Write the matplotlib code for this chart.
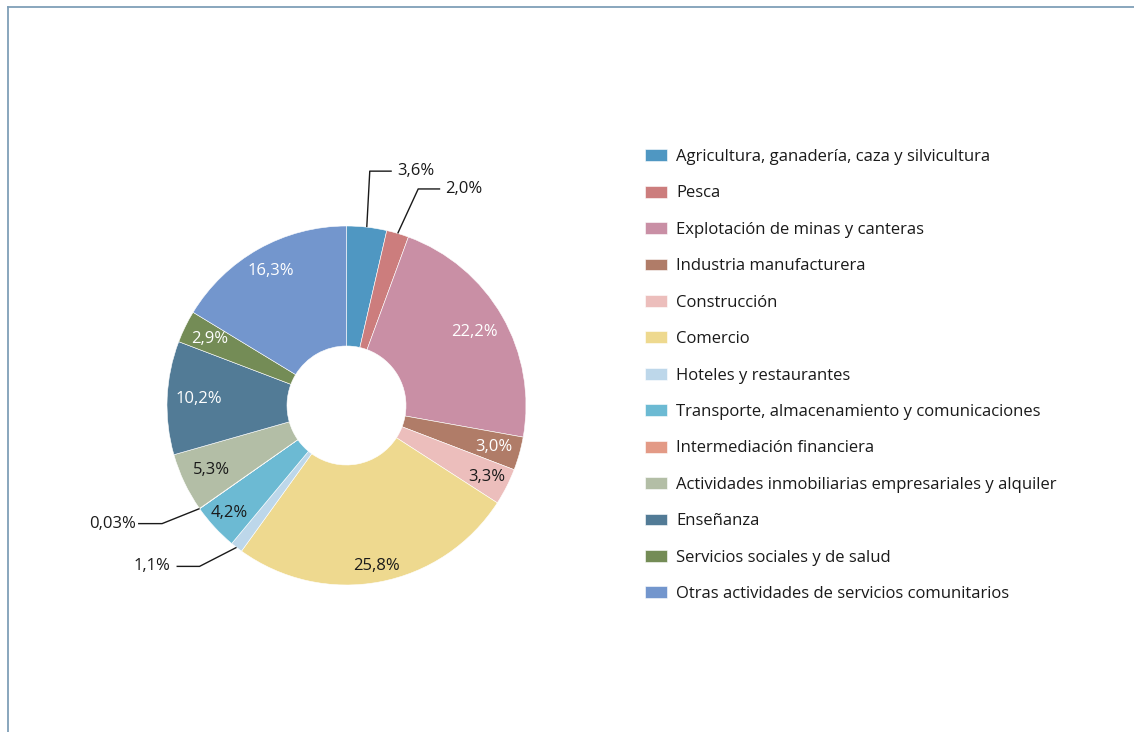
import numpy as np
import matplotlib
matplotlib.use("Agg")
import matplotlib.pyplot as plt
from matplotlib.lines import Line2D

plt.rcParams['font.family'] = ['Open Sans', 'DejaVu Sans']

categories = [
    "Agricultura, ganadería, caza y silvicultura",
    "Pesca",
    "Explotación de minas y canteras",
    "Industria manufacturera",
    "Construcción",
    "Comercio",
    "Hoteles y restaurantes",
    "Transporte, almacenamiento y comunicaciones",
    "Intermediación financiera",
    "Actividades inmobiliarias empresariales y alquiler",
    "Enseñanza",
    "Servicios sociales y de salud",
    "Otras actividades de servicios comunitarios",
]
values = [3.6, 2.0, 22.2, 3.0, 3.3, 25.8, 1.1, 4.2, 0.03, 5.3, 10.2, 2.9, 16.3]
value_labels = ["3,6%", "2,0%", "22,2%", "3,0%", "3,3%", "25,8%", "1,1%",
                "4,2%", "0,03%", "5,3%", "10,2%", "2,9%", "16,3%"]
colors = ["#4f97c2", "#cc7d7d", "#c98fa5", "#b07c68", "#ecbebc", "#eed98f",
          "#bdd7ea", "#6cbad3", "#e39a86", "#b3bea6", "#527b96", "#748c56",
          "#7396cd"]

W, H = 1134, 732
fig = plt.figure(figsize=(W / 100, H / 100), dpi=100)
ax = fig.add_axes([0, 0, 1, 1])

cx, cy = 346.5, H - 405.5
R = 179.5
ring = R - 59.5

wedges, _ = ax.pie(values, colors=colors, startangle=90, counterclock=False,
                   center=(cx, cy), radius=R,
                   wedgeprops=dict(width=ring, edgecolor="white", linewidth=0.4))
ax.set_xlim(0, W)
ax.set_ylim(0, H)
ax.set_aspect("equal")
ax.axis("off")

dark = "#1a1a1a"
fs = 12
# internal labels: index -> (radius, text colour)
inside = {2: (148, "white"), 3: (153, "white"), 4: (157, dark),
          5: (163, dark), 7: (159, dark), 9: (149, dark),
          10: (148, "white"), 11: (152, "white"), 12: (154, "white")}
for i, (r, col) in inside.items():
    w = wedges[i]
    a = np.deg2rad((w.theta1 + w.theta2) / 2)
    ax.text(cx + r * np.cos(a), cy + r * np.sin(a), value_labels[i],
            ha="center", va="center", fontsize=fs, color=col)

# external labels with leader lines: index -> (elbow dx, elbow dy, horiz length, text gap)
outside = {0: (3, 56, 22, 5), 1: (20.5, 44.5, 22, 5),
           8: (-37.5, -15, -24, 2), 6: (-37, -19, -23, 6)}
for i, (dx, dy, hl, gap) in outside.items():
    w = wedges[i]
    a = np.deg2rad((w.theta1 + w.theta2) / 2)
    x0, y0 = cx + R * np.cos(a), cy + R * np.sin(a)
    x1, y1 = x0 + dx, y0 + dy
    x2 = x1 + hl
    side = 1 if hl > 0 else -1
    ax.plot([x0, x1, x2], [y0, y1, y1], color=dark, lw=1.0,
            solid_capstyle="butt")
    ax.text(x2 + gap * side, y1, value_labels[i],
            ha="left" if side > 0 else "right",
            va="center", fontsize=fs, color=dark)

leg = fig.legend(wedges, categories, loc="upper left",
                 bbox_to_anchor=(645 / W, 1 - 149 / H), frameon=False,
                 fontsize=fs, handlelength=1.32, handleheight=0.72,
                 handletextpad=0.54, labelspacing=1.226, borderpad=0,
                 borderaxespad=0)
for t in leg.get_texts():
    t.set_color(dark)

# frame lines at top and left
border = "#7f9fb8"
fig.add_artist(Line2D([7.5 / W, 1], [1 - 6.5 / H, 1 - 6.5 / H],
                      transform=fig.transFigure, color=border, lw=1.3))
fig.add_artist(Line2D([7.5 / W, 7.5 / W], [0, 1 - 6.5 / H],
                      transform=fig.transFigure, color=border, lw=1.3))

fig.savefig("out.png", dpi=100, facecolor="white")
